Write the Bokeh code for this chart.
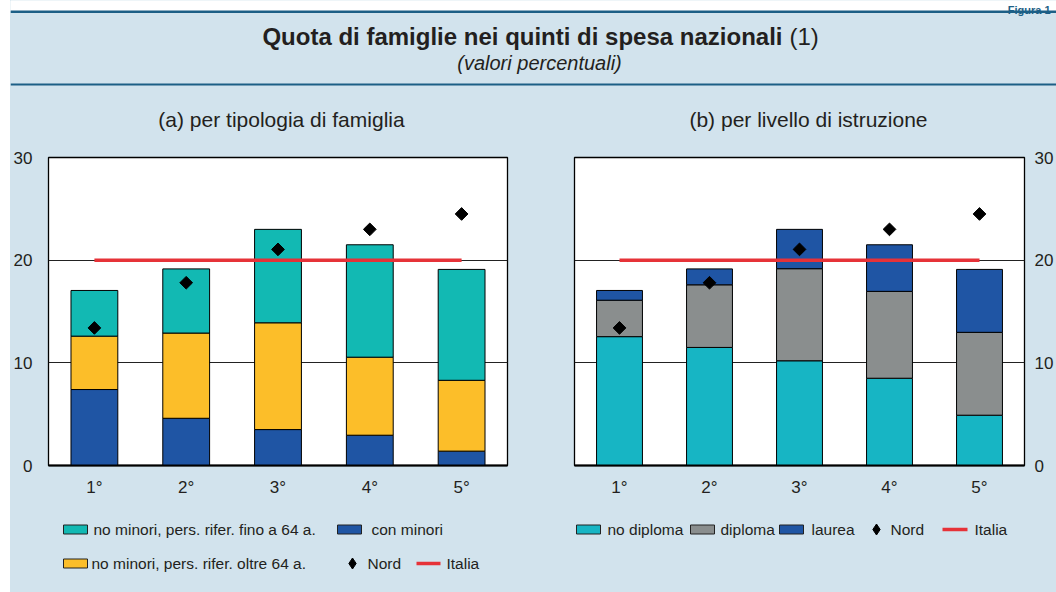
import math
from bokeh.plotting import figure
from bokeh.layouts import column, row
from bokeh.models import Range1d, FactorRange, FixedTicker, ColumnDataSource, Spacer
from bokeh.core.properties import value
from bokeh.embed import file_html
from bokeh.resources import INLINE

# ---------------- data ----------------
quintili = ["1°", "2°", "3°", "4°", "5°"]

# (a) per tipologia di famiglia (stacked, bottom -> top)
con_minori = [7.4, 4.6, 3.5, 2.95, 1.4]
no_minori_oltre64 = [5.2, 8.3, 10.4, 7.6, 6.9]
no_minori_fino64 = [4.45, 6.25, 9.1, 10.95, 10.8]

# (b) per livello di istruzione (stacked, bottom -> top)
no_diploma = [12.55, 11.5, 10.2, 8.5, 4.9]
diploma = [3.55, 6.1, 8.97, 8.46, 8.07]
laurea = [0.95, 1.55, 3.83, 4.54, 6.13]

nord = [13.4, 17.8, 21.05, 23.0, 24.5]
italia = [20, 20, 20, 20, 20]

y_ticks = [0, 10, 20, 30]

figure_tag = "Figura 1"
title_bold = "Quota di famiglie nei quinti di spesa nazionali"
title_note = "(1)"
subtitle = "(valori percentuali)"
panel_a = "(a) per tipologia di famiglia"
panel_b = "(b) per livello di istruzione"

legend_a_labels = ["no minori, pers. rifer. fino a 64 a.", "con minori",
                   "no minori, pers. rifer. oltre 64 a."]
legend_b_labels = ["no diploma", "diploma", "laurea"]

# ---------------- styles ----------------
BG = "#d2e3ed"
DARKLINE = "#1c5f86"
TXT = "#231f20"
TEAL_A = "#12b9b3"
YELLOW = "#fcbe29"
BLUE = "#1f55a4"
TEAL_B = "#17b5c4"
GRAY = "#8a8e8e"
RED = "#e63238"
FONT = "Liberation Sans"

colors_a = [BLUE, YELLOW, TEAL_A]
colors_b = [TEAL_B, GRAY, BLUE]

X0, X1 = 10, 1056  # panel spans page x 10..1056


def blank(y_top, y_bottom):
    f = figure(width=X1 - X0, height=y_bottom - y_top, x_range=Range1d(X0, X1),
               y_range=Range1d(y_bottom, y_top), output_backend="svg",
               toolbar_location=None, min_border=0, x_axis_type=None,
               y_axis_type=None, background_fill_color=BG,
               border_fill_color=BG, outline_line_color=None)
    f.grid.visible = False
    return f


# ---------------- header (page y 0..140) ----------------
head = blank(0, 140)
head.quad(left=[X0], right=[X1], top=[0], bottom=[10], color="white")
head.text(x=[1050], y=[9.3], text=[figure_tag], text_font=value(FONT),
          text_font_size="11px", text_font_style="bold", text_align="right",
          text_baseline="alphabetic", text_color=DARKLINE)
head.segment(x0=[X0], y0=[11.3], x1=[X1], y1=[11.3], line_color=DARKLINE, line_width=2.6)
head.segment(x0=[X0], y0=[84], x1=[X1], y1=[84], line_color=DARKLINE, line_width=2)
head.text(x=[782], y=[36], text=[title_bold], text_font=value(FONT),
          text_font_size="24px", text_font_style="bold", text_align="right",
          text_baseline="middle", text_color=TXT)
head.text(x=[789], y=[36], text=[title_note], text_font=value(FONT),
          text_font_size="24px", text_align="left",
          text_baseline="middle", text_color=TXT)
head.text(x=[539], y=[62], text=[subtitle], text_font=value(FONT),
          text_font_size="20px", text_font_style="italic", text_align="center",
          text_baseline="middle", text_color=TXT)
head.text(x=[281, 808], y=[119, 119], text=[panel_a, panel_b], text_font=value(FONT),
          text_font_size="21px", text_align="center",
          text_baseline="middle", text_color=TXT)


# ---------------- charts (page y 140..500) ----------------
def chart(width, b_left, b_right, names, vals, colors, side, standoff):
    data = dict(q=quintili, nord=nord, italia=italia)
    for n, v in zip(names, vals):
        data[n] = v
    src = ColumnDataSource(data)
    p = figure(x_range=FactorRange(*quintili), y_range=Range1d(0, 30),
               width=width, height=360, output_backend="svg",
               toolbar_location=None, y_axis_location=side,
               min_border_top=17, min_border_bottom=35,
               min_border_left=b_left, min_border_right=b_right,
               background_fill_color="white", border_fill_color=BG,
               outline_line_color="black", outline_line_width=1.3)
    p.vbar_stack(names, x="q", width=0.51, source=src, fill_color=colors,
                 line_color="black", line_width=1)
    p.line(x="q", y="italia", source=src, line_color=RED, line_width=3.5)
    p.scatter(x="q", y="nord", source=src, marker="square", angle=math.pi / 4,
              size=9, color="black")
    p.yaxis.ticker = FixedTicker(ticks=y_ticks)
    p.yaxis.major_tick_line_color = None
    p.yaxis.minor_tick_line_color = None
    p.yaxis.axis_line_color = None
    p.yaxis.major_label_standoff = standoff
    p.xaxis.axis_line_color = "black"
    p.xaxis.axis_line_width = 2
    p.xaxis.major_tick_line_color = None
    p.xaxis.major_label_standoff = 6
    for ax in (p.xaxis, p.yaxis):
        ax.major_label_text_font = FONT
        ax.major_label_text_font_size = "17px"
        ax.major_label_text_color = TXT
    p.xgrid.grid_line_color = None
    p.ygrid.ticker = FixedTicker(ticks=[10, 20])
    p.ygrid.grid_line_color = "#222222"
    p.ygrid.grid_line_width = 1
    return p


# left chart: page x 10..540, frame 46..507
pa = chart(530, 36, 33, ["con_minori", "oltre64", "fino64"],
           [con_minori, no_minori_oltre64, no_minori_fino64], colors_a, "left", 10)
# right chart: page x 540..1056, frame 574..1033
pb = chart(516, 34, 23, ["no_diploma", "diploma", "laurea"],
           [no_diploma, diploma, laurea], colors_b, "right", 4)

# ---------------- legend (page y 500..592) ----------------
leg = blank(500, 592)
sw_x = [75, 349, 75, 588, 702, 791]
sw_y = [529, 529, 563, 529, 529, 529]
sw_c = [TEAL_A, BLUE, YELLOW, TEAL_B, GRAY, BLUE]
leg.rect(x=sw_x, y=sw_y, width=24, height=9, fill_color=sw_c,
         line_color="#222222", line_width=1)
lab_x = [93, 371, 91, 607, 720, 811]
lab_y = [529, 529, 563, 529, 529, 529]
labels = [legend_a_labels[0], legend_a_labels[1], legend_a_labels[2],
          legend_b_labels[0], legend_b_labels[1], legend_b_labels[2]]
leg.text(x=lab_x, y=lab_y, text=labels, text_font=value(FONT),
         text_font_size="15.5px", text_baseline="middle", text_color=TXT)
leg.scatter(x=[352, 876], y=[563, 529], marker="diamond", size=11, color="black")
leg.text(x=[367, 890], y=[563, 529], text=["Nord", "Nord"], text_font=value(FONT),
         text_font_size="15.5px", text_baseline="middle", text_color=TXT)
leg.segment(x0=[416, 942], y0=[563, 529], x1=[440, 967], y1=[563, 529],
            line_color=RED, line_width=3.5)
leg.text(x=[446, 974], y=[563, 529], text=["Italia", "Italia"], text_font=value(FONT),
         text_font_size="15.5px", text_baseline="middle", text_color=TXT)

left_strip = Spacer(width=X0, height=592, styles={"background-color": "white"})
panel = column(head, row(pa, pb, spacing=0, styles={"background-color": BG}), leg,
               spacing=0, styles={"background-color": BG})
layout = row(left_strip, panel, spacing=0)

with open("out.html", "w") as f:
    f.write(file_html(layout, INLINE))
